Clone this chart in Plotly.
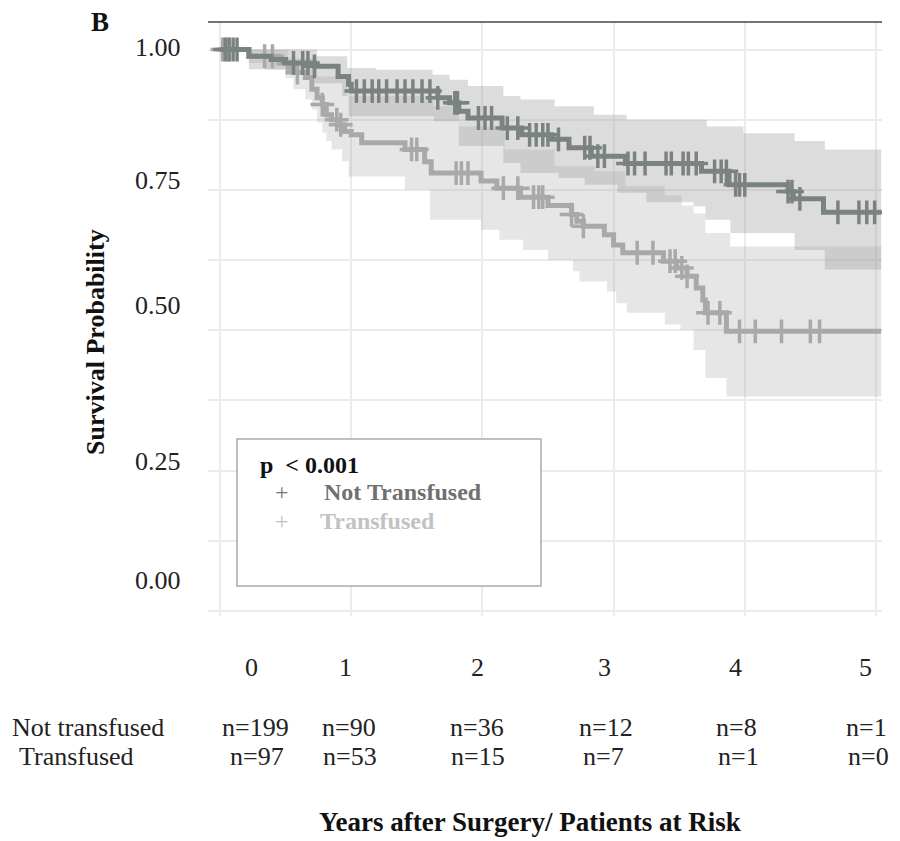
import numpy as np
import plotly.graph_objects as go

# Kaplan-Meier step data (years, survival after the step)
nt_time = [0, 0.22, 0.39, 0.50, 0.72, 0.90, 0.98, 1.00, 1.66, 1.75, 1.82, 1.89, 2.15, 2.30, 2.53,
           2.66, 2.83, 3.09, 3.67, 3.88, 4.33, 4.37, 4.60, 5.04]
nt_surv = [1.0, 0.988, 0.982, 0.976, 0.970, 0.952, 0.938, 0.926, 0.914, 0.905, 0.890, 0.878, 0.860,
           0.848, 0.840, 0.825, 0.810, 0.797, 0.783, 0.759, 0.747, 0.734, 0.710, 0.710]

tr_time = [0, 0.22, 0.45, 0.52, 0.57, 0.65, 0.70, 0.74, 0.78, 0.81, 0.85, 0.90, 0.95, 1.00, 1.08,
           1.41, 1.56, 1.61, 1.99, 2.11, 2.29, 2.50, 2.68, 2.72, 2.77, 2.93, 3.00, 3.07, 3.38,
           3.48, 3.56, 3.63, 3.68, 3.70, 3.86, 5.04]
tr_surv = [1.0, 0.988, 0.976, 0.967, 0.959, 0.950, 0.929, 0.914, 0.902, 0.884, 0.875, 0.866, 0.854,
           0.848, 0.834, 0.822, 0.800, 0.780, 0.766, 0.753, 0.737, 0.722, 0.706, 0.694, 0.685,
           0.670, 0.652, 0.638, 0.623, 0.611, 0.596, 0.575, 0.554, 0.531, 0.498, 0.498]

# censored observations
nt_cens = [0.04, 0.07, 0.10, 0.13, 0.56, 0.63, 0.67, 0.72, 1.04, 1.10, 1.16, 1.21, 1.27, 1.35, 1.41,
           1.47, 1.54, 1.60, 1.66, 1.79, 1.81, 1.97, 2.02, 2.07, 2.19, 2.27, 2.36, 2.41, 2.46, 2.50,
           2.58, 2.78, 2.82, 2.88, 2.93, 3.11, 3.16, 3.24, 3.40, 3.44, 3.53, 3.57, 3.63, 3.77, 3.82,
           3.86, 3.93, 3.96, 4.00, 4.33, 4.36, 4.42, 4.71, 4.87, 4.93, 4.99]
tr_cens = [0.02, 0.06, 0.34, 0.40, 0.59, 0.78, 0.89, 0.92, 1.46, 1.50, 1.80, 1.84, 1.89, 2.16, 2.27,
           2.39, 2.43, 2.46, 2.68, 2.77, 3.18, 3.30, 3.43, 3.47, 3.52, 3.56, 3.72, 3.81, 3.96, 4.08,
           4.28, 4.50, 4.57]

# 95% confidence bands
nt_hi_t = [0, 0.74, 0.97, 1.19, 1.62, 1.75, 1.89, 2.16, 2.29, 2.55, 2.85, 3.10, 3.71, 3.99, 4.38, 4.61, 5.04]
nt_hi_s = [1.0, 0.988, 0.967, 0.964, 0.955, 0.946, 0.935, 0.917, 0.911, 0.899, 0.884, 0.875, 0.863,
           0.851, 0.837, 0.822, 0.822]
nt_lo_t = [0, 0.22, 0.50, 0.72, 0.93, 0.98, 1.63, 1.82, 2.16, 2.29, 2.58, 2.78, 3.03, 3.25, 3.61, 3.70,
           3.89, 4.38, 4.61, 5.04]
nt_lo_s = [1.0, 0.965, 0.955, 0.940, 0.917, 0.881, 0.872, 0.828, 0.798, 0.780, 0.771, 0.759, 0.745,
           0.728, 0.721, 0.697, 0.673, 0.643, 0.608, 0.608]
tr_hi_t = [0, 0.52, 0.74, 0.97, 1.63, 1.82, 2.17, 2.55, 2.86, 3.09, 3.39, 3.52, 3.61, 3.70, 3.89, 5.04]
tr_hi_s = [1.0, 0.985, 0.952, 0.917, 0.899, 0.863, 0.822, 0.792, 0.783, 0.757, 0.740, 0.722, 0.708,
           0.673, 0.649, 0.649]
tr_lo_t = [0, 0.22, 0.34, 0.50, 0.56, 0.65, 0.70, 0.74, 0.78, 0.81, 0.85, 0.93, 0.98, 1.41, 1.60, 1.99,
           2.13, 2.31, 2.50, 2.69, 2.74, 2.95, 3.02, 3.10, 3.39, 3.51, 3.61, 3.70, 3.86, 5.04]
tr_lo_s = [1.0, 0.976, 0.964, 0.949, 0.929, 0.911, 0.893, 0.870, 0.852, 0.837, 0.822, 0.801, 0.774,
           0.750, 0.697, 0.679, 0.661, 0.643, 0.625, 0.605, 0.587, 0.569, 0.548, 0.531, 0.510, 0.501,
           0.465, 0.415, 0.382, 0.382]

# numbers at risk
years = ["0", "1", "2", "3", "4", "5"]
risk_not = ["n=199", "n=90", "n=36", "n=12", "n=8", "n=1"]
risk_tr = ["n=97", "n=53", "n=15", "n=7", "n=1", "n=0"]
ytick_text = ["1.00", "0.75", "0.50", "0.25", "0.00"]

# label placement (the printed labels do not sit on the gridlines)
year_pos = [0.24, 0.96, 1.96, 2.93, 3.93, 4.92]
risk_not_pos = [0.27, 0.98, 1.96, 2.94, 3.94, 4.93]
risk_tr_pos = [0.28, 0.99, 1.97, 2.92, 3.95, 4.94]
ytick_pos = [1.004, 0.766, 0.544, 0.267, 0.054]

FONT = "Liberation Serif"
DARK = "#7b8381"
LIGHT = "#a9a9a9"


def step_at(times, surv, t):
    idx = np.searchsorted(times, t, side="right") - 1
    return [surv[i] for i in idx]


def label(text, x, y, xref="paper", yref="paper", size=26, color="#222", xanchor="center", **kw):
    return dict(x=x, y=y, xref=xref, yref=yref, text=text, showarrow=False,
                xanchor=xanchor, yanchor="middle", font=dict(size=size, color=color), **kw)


fig = go.Figure()

# confidence bands
for lo_t, lo_s, hi_t, hi_s, fc in [
    (nt_lo_t, nt_lo_s, nt_hi_t, nt_hi_s, "rgba(160,160,160,0.37)"),
    (tr_lo_t, tr_lo_s, tr_hi_t, tr_hi_s, "rgba(160,160,160,0.26)"),
]:
    fig.add_trace(go.Scatter(x=lo_t, y=lo_s, mode="lines", line=dict(width=0, shape="hv"),
                             showlegend=False, hoverinfo="skip"))
    fig.add_trace(go.Scatter(x=hi_t, y=hi_s, mode="lines", line=dict(width=0, shape="hv"),
                             fill="tonexty", fillcolor=fc, showlegend=False, hoverinfo="skip"))

# survival curves + censor marks
for t, s, c, col in [(tr_time, tr_surv, tr_cens, LIGHT), (nt_time, nt_surv, nt_cens, DARK)]:
    fig.add_trace(go.Scatter(x=t, y=s, mode="lines", line=dict(color=col, width=5, shape="hv"),
                             showlegend=False))
    fig.add_trace(go.Scatter(x=c, y=step_at(t, s, c), mode="markers",
                             marker=dict(symbol="cross-thin", size=17, line=dict(color=col, width=3.5)),
                             showlegend=False))

ann = []
for txt, yp in zip(ytick_text, ytick_pos):
    ann.append(label(txt, -0.037, yp, yref="y", xanchor="right"))
for txt, xp in zip(years, year_pos):
    ann.append(label(txt, xp, -0.0875, xref="x"))
for txt, xp in zip(risk_not, risk_not_pos):
    ann.append(label(txt, xp, -0.187, xref="x"))
for txt, xp in zip(risk_tr, risk_tr_pos):
    ann.append(label(txt, xp, -0.237, xref="x"))
ann += [
    label("Not transfused", -0.294, -0.187, xanchor="left"),
    label("Transfused", -0.283, -0.237, xanchor="left"),
    label("<b>Years after Surgery/ Patients at Risk</b>", 0.478, -0.347, size=27, color="#111"),
    label("<b>Survival Probability</b>", -0.168, 0.461, color="#111", textangle=-90),
    label("<b>B</b>", -0.160, 1.0, size=27, color="#111"),
    # legend
    label("<b>p  < 0.001</b>", 0.074, 0.254, size=24, color="#111", xanchor="left"),
    label("+", 0.110, 0.209, size=24, color="#777"),
    label("<b>Not Transfused</b>", 0.169, 0.209, size=24, color="#707070", xanchor="left"),
    label("+", 0.110, 0.160, size=24, color="#c2c2c2"),
    label("<b>Transfused</b>", 0.163, 0.160, size=24, color="#c2c2c2", xanchor="left"),
]

fig.update_layout(
    width=900, height=841,
    margin=dict(l=208, r=18, t=22, b=225),
    paper_bgcolor="white", plot_bgcolor="white",
    font=dict(family=FONT, size=24, color="#222"),
    showlegend=False,
    annotations=ann,
    shapes=[
        dict(type="line", xref="paper", yref="paper", x0=0, x1=1, y0=1, y1=1,
             line=dict(color="#444", width=1.5)),
        dict(type="rect", xref="paper", yref="paper", x0=0.043, x1=0.494, y0=0.0505, y1=0.298,
             line=dict(color="#aaa", width=1.5), fillcolor="white"),
    ],
    xaxis=dict(range=[-0.0915, 5.046], tickvals=[0, 1, 2, 3, 4, 5], showticklabels=False,
               showgrid=True, gridcolor="#ebebeb", gridwidth=2, zeroline=False, showline=False,
               ticks=""),
    yaxis=dict(range=[-0.009, 1.049], tickvals=[i * 0.125 for i in range(9)], showticklabels=False,
               showgrid=True, gridcolor="#ebebeb", gridwidth=2, zeroline=False, showline=False,
               ticks=""),
)

# drop the default page margin so the 900x841 figure fills the window
fig.write_html("out.html", config={"displayModeBar": False},
               post_script="document.body.style.margin='0';")
